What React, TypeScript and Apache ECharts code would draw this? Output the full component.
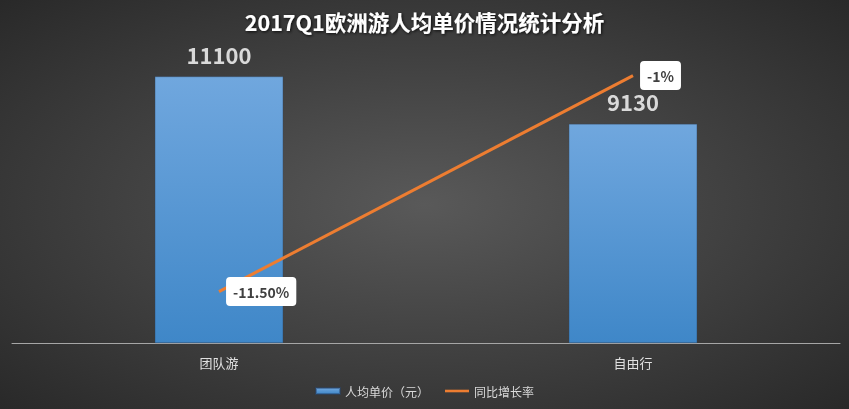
import React, { useEffect, useRef } from "react";
import * as echarts from "echarts";

const categories = ["团队游", "自由行"];
const unitPrice = [11100, 9130];
const growthRate = [-11.5, -1];
const growthLabels = ["-11.50%", "-1%"];
const titleText = "2017Q1欧洲游人均单价情况统计分析";
const seriesNames = ["人均单价（元）", "同比增长率"];

export default function App() {
  const ref = useRef<HTMLDivElement>(null);
  useEffect(() => {
    if (!ref.current) return;
    const chart = echarts.init(ref.current, null, { renderer: "svg" });
    const font = "'Noto Sans CJK SC', 'Microsoft YaHei', sans-serif";
    chart.setOption({
      animation: false,
      backgroundColor: {
        type: "radial",
        x: 0.5,
        y: 0.5,
        r: 0.75,
        colorStops: [
          { offset: 0, color: "#595959" },
          { offset: 1, color: "#262626" },
        ],
      },
      textStyle: { fontFamily: font },
      title: {
        text: titleText,
        left: "center",
        top: 6,
        textStyle: {
          color: "#ffffff",
          fontSize: 21.5,
          fontWeight: "bold",
          fontFamily: font,
          textShadowColor: "rgba(0,0,0,0.8)",
          textShadowBlur: 3,
          textShadowOffsetX: 1,
          textShadowOffsetY: 1,
        },
      },
      legend: {
        bottom: 7,
        left: "center",
        itemWidth: 24,
        itemHeight: 6,
        itemGap: 16,
        textStyle: { color: "#d9d9d9", fontSize: 12, fontFamily: font },
        data: [
          { name: seriesNames[0], icon: "rect" },
          { name: seriesNames[1], icon: "path://M0,0h24v2.6h-24z" },
        ],
      },
      grid: { left: 12, right: 9, top: 55, bottom: 66 },
      xAxis: {
        type: "category",
        data: categories,
        axisTick: { show: false },
        axisLine: { lineStyle: { color: "#a6a6a6", width: 1 } },
        axisLabel: { color: "#e0e0e0", fontSize: 13, margin: 13, fontFamily: font },
      },
      yAxis: [
        { type: "value", min: 0, max: 12000, show: false, splitLine: { show: false } },
        { type: "value", min: -14, max: 0, show: false, splitLine: { show: false } },
      ],
      series: [
        {
          name: seriesNames[0],
          type: "bar",
          data: unitPrice,
          barWidth: "31%",
          itemStyle: {
            color: {
              type: "linear",
              x: 0,
              y: 0,
              x2: 0,
              y2: 1,
              colorStops: [
                { offset: 0, color: "#70a7de" },
                { offset: 1, color: "#3f87c8" },
              ],
            },
            borderColor: "rgba(40,70,110,0.5)",
            borderWidth: 0.5,
          },
          label: {
            show: true,
            position: "top",
            distance: 12,
            color: "#d9d9d9",
            fontSize: 22,
            fontWeight: "bold",
            fontFamily: font,
          },
        },
        {
          name: seriesNames[1],
          type: "line",
          yAxisIndex: 1,
          data: growthRate,
          symbol: "circle",
          symbolSize: 0.1,
          showSymbol: true,
          lineStyle: { color: "#ed7d31", width: 3 },
          itemStyle: { color: "#ed7d31" },
          label: {
            show: true,
            position: "right",
            distance: 7,
            formatter: (p: any) => growthLabels[p.dataIndex],
            backgroundColor: "#ffffff",
            borderRadius: 4,
            padding: [8, 7, 7, 7],
            color: "#404040",
            fontSize: 14,
            fontWeight: "bold",
            fontFamily: font,
          },
        },
      ],
    });
    return () => chart.dispose();
  }, []);
  return (
    <div
      ref={ref}
      style={{ position: "fixed", left: 0, top: 0, width: 849, height: 409 }}
    />
  );
}
